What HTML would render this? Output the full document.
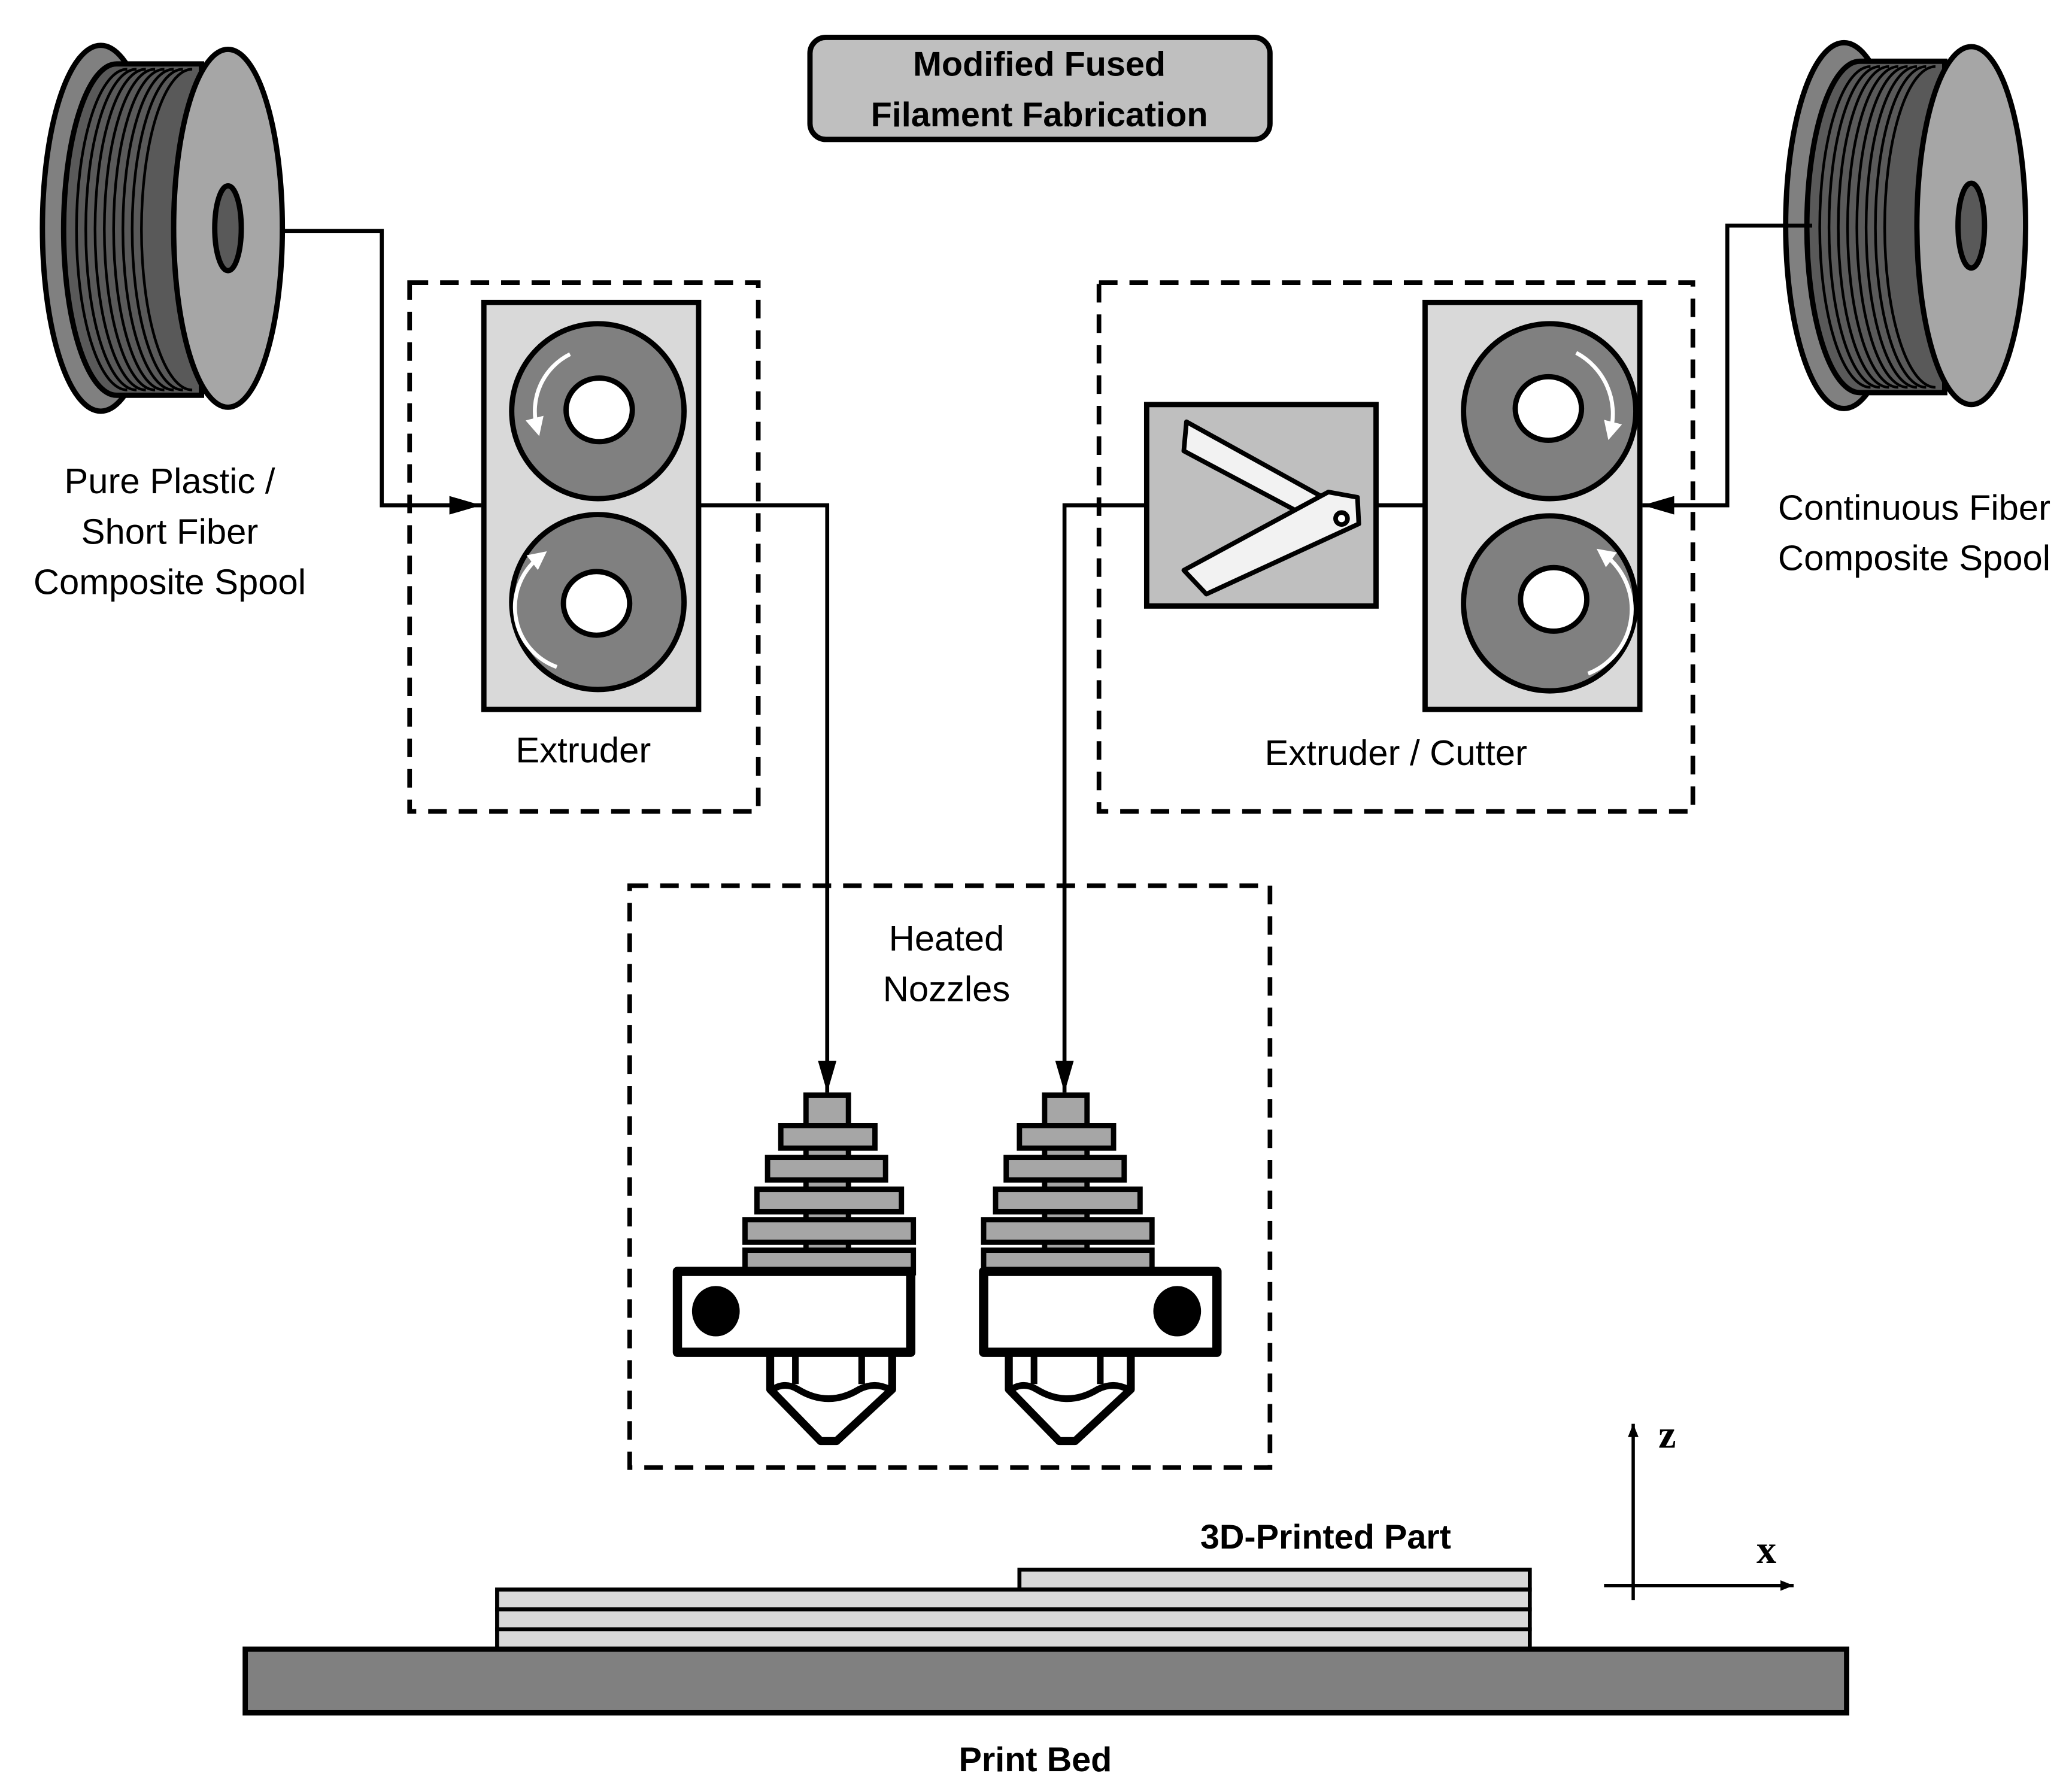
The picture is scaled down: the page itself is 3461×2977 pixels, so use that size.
<!DOCTYPE html>
<html><head><style>html,body{margin:0;padding:0;background:#fff}svg{display:block}</style></head>
<body>
<svg width="3461" height="2977" viewBox="0 0 1563 1344" xmlns="http://www.w3.org/2000/svg">
<defs>
<marker id="ah" markerWidth="10" markerHeight="8" refX="10" refY="4" orient="auto" markerUnits="userSpaceOnUse"><path d="M0,0 L10,4 L0,8 Z" fill="#000"/></marker>
<marker id="ahb" markerWidth="24" markerHeight="14" refX="24" refY="7" orient="auto" markerUnits="userSpaceOnUse"><path d="M0,0 L24,7 L0,14 Z" fill="#000"/></marker>
<marker id="wh" markerWidth="14" markerHeight="14" refX="7" refY="7" orient="auto" markerUnits="userSpaceOnUse"><path d="M0,0 L14,7 L0,14 Z" fill="#fff"/></marker>
<g id="spool">
<ellipse cx="76" cy="172" rx="44" ry="138" fill="#808080" stroke="#000" stroke-width="4"/>
<path d="M88,48 L152,48 L152,298 L88,298 A40,125 0 0 1 88,48 Z" fill="#595959" stroke="#000" stroke-width="4"/>
<g fill="none" stroke="#000" stroke-width="2">
<path d="M96,52 A38,120 0 0 0 96,294"/><path d="M103,52 A38,120 0 0 0 103,294"/><path d="M110,52 A38,120 0 0 0 110,294"/><path d="M117,52 A38,120 0 0 0 117,294"/><path d="M124,52 A38,120 0 0 0 124,294"/><path d="M131,52 A38,120 0 0 0 131,294"/><path d="M138,52 A38,120 0 0 0 138,294"/><path d="M145,52 A38,120 0 0 0 145,294"/></g>
<ellipse cx="172" cy="172" rx="41" ry="135" fill="#a6a6a6" stroke="#000" stroke-width="4"/>
<ellipse cx="172" cy="172" rx="10" ry="32" fill="#595959" stroke="#000" stroke-width="4"/>
</g>
</defs>
<use href="#spool"/>
<use href="#spool" x="1315" y="-2"/>

<!-- title -->
<rect x="611" y="28" width="347" height="77" rx="12" fill="#bfbfbf" stroke="#000" stroke-width="4"/>
<g font-family="Liberation Sans, sans-serif" font-weight="bold" font-size="26" text-anchor="middle">
<text x="784" y="57">Modified Fused</text>
<text x="784" y="95">Filament Fabrication</text>
<text x="1000" y="1168">3D-Printed Part</text>
<text x="781" y="1336">Print Bed</text>
</g>
<g font-family="Liberation Sans, sans-serif" font-size="27" text-anchor="middle">
<text x="128" y="372">Pure Plastic /</text>
<text x="128" y="410">Short Fiber</text>
<text x="128" y="448">Composite Spool</text>
<text x="1444" y="392">Continuous Fiber</text>
<text x="1444" y="430">Composite Spool</text>
<text x="440" y="575">Extruder</text>
<text x="1053" y="577">Extruder / Cutter</text>
<text x="714" y="717">Heated</text>
<text x="714" y="755">Nozzles</text>
</g>

<!-- dashed boxes -->
<g fill="none" stroke="#000" stroke-width="3.5" stroke-dasharray="14,9">
<rect x="309" y="213" width="263" height="399"/>
<rect x="829" y="213" width="448" height="399"/>
<rect x="475" y="668" width="483" height="439"/>
</g>

<!-- connectors -->
<g fill="none" stroke="#000" stroke-width="3">
<path d="M214,174 H288 V381 H363" marker-end="url(#ahb)"/>
<path d="M527,381 H624 V824" marker-end="url(#ahb)"/>
<path d="M1038,381 H1075"/>
<path d="M865,381 H803 V824" marker-end="url(#ahb)"/>
<path d="M1367,170 H1303 V381 H1239" marker-end="url(#ahb)"/>
</g>

<!-- left extruder -->
<rect x="365" y="228" width="162" height="307" fill="#d9d9d9" stroke="#000" stroke-width="4"/>
<g stroke="#000" stroke-width="4">
<ellipse cx="451" cy="310" rx="65" ry="66" fill="#808080"/><ellipse cx="452" cy="309" rx="25" ry="24" fill="#fff"/>
<ellipse cx="451" cy="454" rx="65" ry="66" fill="#808080"/><ellipse cx="450" cy="455" rx="25" ry="24" fill="#fff"/>
</g>
<g fill="none" stroke="#fff" stroke-width="3">
<path d="M430,267 A48,48 0 0 0 405,322" marker-end="url(#wh)"/>
<path d="M420,503 A48,48 0 0 1 407,420" marker-end="url(#wh)"/>
</g>

<!-- right extruder -->
<rect x="1075" y="228" width="162" height="307" fill="#d9d9d9" stroke="#000" stroke-width="4"/>
<g stroke="#000" stroke-width="4">
<ellipse cx="1169" cy="310" rx="65" ry="66" fill="#808080"/><ellipse cx="1168" cy="308" rx="25" ry="24" fill="#fff"/>
<ellipse cx="1169" cy="455" rx="65" ry="66" fill="#808080"/><ellipse cx="1172" cy="452" rx="25" ry="24" fill="#fff"/>
</g>
<g fill="none" stroke="#fff" stroke-width="3">
<path d="M1189,266 A52,52 0 0 1 1215,325" marker-end="url(#wh)"/>
<path d="M1198,508 A52,52 0 0 0 1210,418" marker-end="url(#wh)"/>
</g>

<!-- cutter -->
<rect x="865" y="305" width="173" height="152" fill="#bfbfbf" stroke="#000" stroke-width="4"/>
<g fill="#f2f2f2" stroke="#000" stroke-width="3.5" stroke-linejoin="round">
<polygon points="895,318 1018,386 1002,398 893,340"/>
<polygon points="893,430 1002,371 1024,375 1025,395 910,448"/>
<circle cx="1012" cy="391" r="4.5" fill="#fff"/>
</g>

<!-- nozzles -->
<g id="noz">
<g fill="#a6a6a6" stroke="#000" stroke-width="4">
<rect x="608" y="826" width="32" height="132"/>
<rect x="589" y="849" width="71" height="17"/>
<rect x="579" y="873" width="89" height="17"/>
<rect x="571" y="897" width="109" height="17"/>
<rect x="562" y="920" width="127" height="17"/>
<rect x="562" y="943" width="127" height="17"/>
</g>
<g fill="#fff" stroke="#000" stroke-linejoin="round">
<path d="M581,1022 V1048 L619,1087 H631 L673,1048 V1022" stroke-width="6"/>
<path d="M600,1022 V1044 M650,1022 V1044" fill="none" stroke-width="5"/>
<path d="M583,1048 Q592,1042 602,1048 Q625,1062 648,1048 Q660,1042 671,1048" fill="none" stroke-width="5"/>
</g>
</g>
<use href="#noz" x="180"/>
<g fill="#fff" stroke="#000" stroke-width="7" stroke-linejoin="round">
<rect x="511" y="959" width="176" height="61"/>
<rect x="742" y="959" width="176" height="61"/>
</g>
<ellipse cx="540" cy="989" rx="18" ry="19" fill="#000"/>
<ellipse cx="888" cy="989" rx="18" ry="19" fill="#000"/>

<!-- part and bed -->
<g stroke="#000" stroke-width="3" fill="#d9d9d9">
<rect x="769" y="1184" width="385" height="15"/>
<rect x="375" y="1199" width="779" height="15"/>
<rect x="375" y="1214" width="779" height="15"/>
<rect x="375" y="1229" width="779" height="15"/>
</g>
<rect x="185" y="1244" width="1208" height="48" fill="#808080" stroke="#000" stroke-width="4"/>

<!-- axes -->
<g stroke="#000" stroke-width="2.5" fill="none">
<path d="M1232,1207 V1074" marker-end="url(#ah)"/>
<path d="M1210,1196 H1353" marker-end="url(#ah)"/>
</g>
<g font-family="Liberation Serif, serif" font-weight="bold" font-size="30">
<text x="1251" y="1092">z</text>
<text x="1325" y="1179">x</text>
</g>
</svg>
</body></html>
